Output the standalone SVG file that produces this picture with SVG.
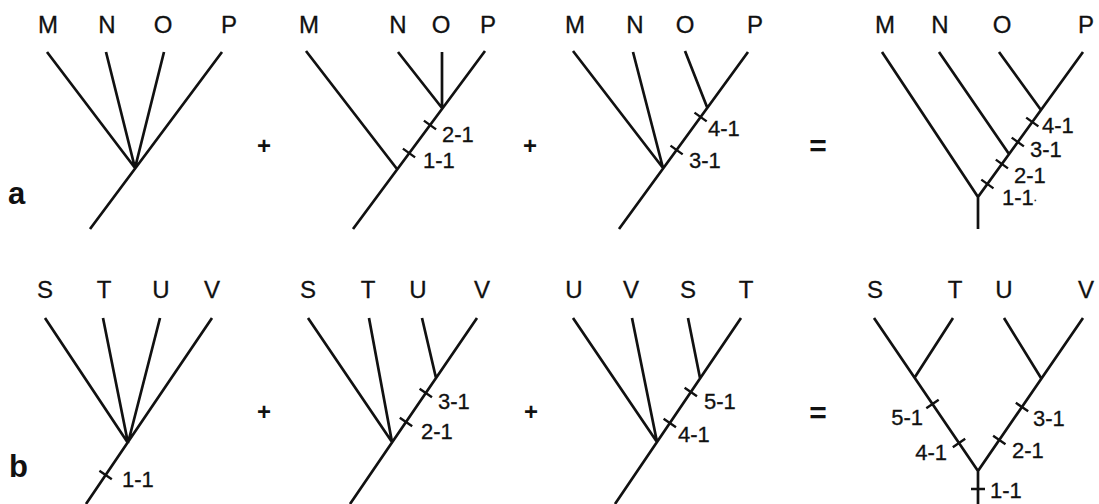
<svg xmlns="http://www.w3.org/2000/svg" width="1099" height="504" viewBox="0 0 1099 504">
  <style>
    .br { stroke: #111; stroke-width: 2.7; fill: none; stroke-linecap: butt; }
    .tk { stroke: #111; stroke-width: 2.4; fill: none; }
    .tx { font-family: "Liberation Sans", Arial, sans-serif; font-size: 24px; fill: #111; stroke: #111; stroke-width: 0.3; text-anchor: middle; }
    .num { font-family: "Liberation Sans", Arial, sans-serif; font-size: 22px; fill: #111; stroke: #111; stroke-width: 0.3; }
    .end { text-anchor: end; }
    .op { font-family: "Liberation Sans", Arial, sans-serif; font-weight: bold; font-size: 24px; fill: #111; text-anchor: middle; }
    .eq { font-family: "Liberation Sans", Arial, sans-serif; font-weight: bold; font-size: 30px; fill: #111; text-anchor: middle; }
    .panel { font-family: "Liberation Sans", Arial, sans-serif; font-weight: bold; font-size: 31px; fill: #111; }
  </style>
  <rect width="1099" height="504" fill="#ffffff"/>

  <!-- panel letters and operators -->
  <text class="panel" x="8" y="204">a</text>
  <text class="panel" x="9" y="477">b</text>
  <text class="op" x="264" y="154">+</text>
  <text class="op" x="530" y="154">+</text>
  <text class="eq" x="818" y="156">=</text>
  <text class="op" x="264" y="420">+</text>
  <text class="op" x="531" y="420">+</text>
  <text class="eq" x="818" y="423">=</text>

  <!-- row a, tree 1 -->
  <g id="a1">
    <text class="tx" x="48" y="33">M</text>
    <text class="tx" x="107" y="33">N</text>
    <text class="tx" x="163" y="33">O</text>
    <text class="tx" x="229" y="33">P</text>
  </g>
  <!-- row a, tree 2 -->
  <g id="a2">
    <text class="tx" x="309" y="33">M</text>
    <text class="tx" x="398" y="33">N</text>
    <text class="tx" x="441" y="33">O</text>
    <text class="tx" x="488" y="33">P</text>
    <text class="num" x="442" y="142">2-1</text>
    <text class="num" x="423" y="168">1-1</text>
  </g>
  <!-- row a, tree 3 -->
  <g id="a3">
    <text class="tx" x="575" y="33">M</text>
    <text class="tx" x="635" y="33">N</text>
    <text class="tx" x="685" y="33">O</text>
    <text class="tx" x="755" y="33">P</text>
    <text class="num" x="708" y="136">4-1</text>
    <text class="num" x="689" y="168">3-1</text>
  </g>
  <!-- row a, combined tree -->
  <g id="a4">
    <text class="tx" x="885" y="33">M</text>
    <text class="tx" x="940" y="33">N</text>
    <text class="tx" x="1002" y="33">O</text>
    <text class="tx" x="1086" y="33">P</text>
    <text class="num" x="1042" y="133">4-1</text>
    <text class="num" x="1030" y="157">3-1</text>
    <text class="num" x="1014" y="183">2-1</text>
    <text class="num" x="1002" y="205">1-1<tspan font-size="11px" dy="-4">.</tspan></text>
  </g>

  <!-- row b, tree 1 -->
  <g id="b1">
    <text class="tx" x="45" y="298">S</text>
    <text class="tx" x="104" y="298">T</text>
    <text class="tx" x="161" y="298">U</text>
    <text class="tx" x="212" y="298">V</text>
    <text class="num" x="122" y="487">1-1</text>
  </g>
  <!-- row b, tree 2 -->
  <g id="b2">
    <text class="tx" x="308" y="298">S</text>
    <text class="tx" x="368" y="298">T</text>
    <text class="tx" x="418" y="298">U</text>
    <text class="tx" x="482" y="298">V</text>
    <text class="num" x="438" y="409">3-1</text>
    <text class="num" x="421" y="439">2-1</text>
  </g>
  <!-- row b, tree 3 -->
  <g id="b3">
    <text class="tx" x="574" y="298">U</text>
    <text class="tx" x="631" y="298">V</text>
    <text class="tx" x="688" y="298">S</text>
    <text class="tx" x="746" y="298">T</text>
    <text class="num" x="704" y="409">5-1</text>
    <text class="num" x="678" y="442">4-1</text>
  </g>
  <!-- row b, combined tree -->
  <g id="b4">
    <text class="tx" x="875" y="298">S</text>
    <text class="tx" x="955" y="298">T</text>
    <text class="tx" x="1004" y="298">U</text>
    <text class="tx" x="1086" y="298">V</text>
    <text class="num end" x="923" y="425">5-1</text>
    <text class="num end" x="947" y="460">4-1</text>
    <text class="num" x="1033" y="426">3-1</text>
    <text class="num" x="1012" y="458">2-1</text>
    <text class="num" x="990" y="498">1-1</text>
  </g>

  <!-- branches and character-change ticks (ticks cross the branch at right angles) -->
  <g id="connectors">
    <!-- a1 -->
    <path class="br" d="M47 52L135 168M106 52L135 168M164 52L135 168M222 52L90 229"/>
    <!-- a2 -->
    <path class="br" d="M306 51L397 169M398 52L442 108M442 52L442 108M485 51L353 229"/>
    <path class="tk" d="M423.9 120.6L436.1 129.4M402.9 148.6L415.1 157.4"/>
    <!-- a3 -->
    <path class="br" d="M573 51L663 168M633 52L663 168M685 51L707 107M748 52L619 229"/>
    <path class="tk" d="M694.5 112.6L706.7 121.4M670.5 145.6L682.7 154.4"/>
    <!-- a4 -->
    <path class="br" d="M882 52L978 197M939 52L1009 154M999 52L1041 110M1083 52L978 197L978 229"/>
    <path class="tk" d="M1026.2 117.6L1038.4 126.4M1011.7 137.6L1023.9 146.4M995.8 159.6L1008 168.4M981.3 179.6L993.5 188.4"/>
    <!-- b1 -->
    <path class="br" d="M45 318L128 443M103 318L128 443M160 318L128 443M212 318L86 504"/>
    <path class="tk" d="M99.4 470.8L111.8 479.2"/>
    <!-- b2 -->
    <path class="br" d="M308 318L392 442M369 318L392 442M422 318L436 378M477 318L350 504"/>
    <path class="tk" d="M419.6 388.8L432 397.2M399.8 417.8L412.2 426.2"/>
    <!-- b3 -->
    <path class="br" d="M573 318L657 442M632 318L657 442M688 318L700 378M741 318L615 504"/>
    <path class="tk" d="M684.6 387.8L697 396.2M663.6 418.8L676 427.2"/>
    <!-- b4 -->
    <path class="br" d="M874 318L978 471M953 318L915 377M1004 318L1041 378M1083 318L978 471L978 504"/>
    <path class="tk" d="M926.3 408.2L938.7 399.8M952.8 447.2L965.2 438.8M1015.8 402.8L1028.2 411.2M993.1 435.8L1005.5 444.2M971 489L985 489"/>
  </g>
</svg>
